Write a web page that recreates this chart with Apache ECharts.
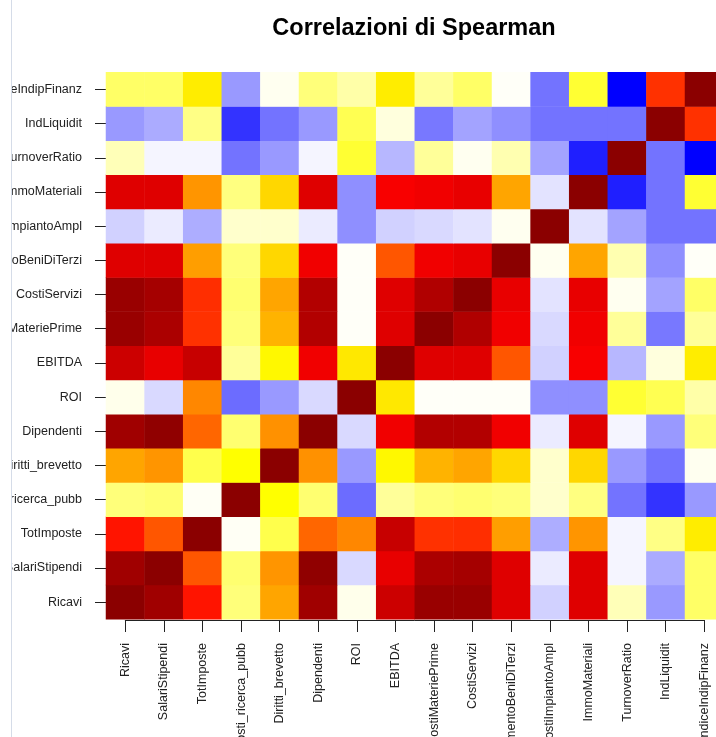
<!DOCTYPE html>
<html>
<head>
<meta charset="utf-8">
<title>Correlazioni di Spearman</title>
<script src="https://cdn.jsdelivr.net/npm/echarts@6/dist/echarts.min.js"></script>
<style>
  html, body { margin: 0; padding: 0; background: #fff; }
  #chart { width: 716px; height: 737px; }
</style>
</head>
<body>
<div id="chart"></div>
<script>
// variabili (ordine delle colonne; sull'asse y Ricavi sta in basso)
const variabili = [
  "Ricavi", "SalariStipendi", "TotImposte", "Costi_ricerca_pubb", "Diritti_brevetto",
  "Dipendenti", "ROI", "EBITDA", "CostiMateriePrime", "CostiServizi",
  "GodimentoBeniDiTerzi", "CostiImpiantoAmpl", "ImmoMateriali", "TurnoverRatio",
  "IndLiquidit", "IndiceIndipFinanz"
];

// correlazioni di Spearman, una riga per variabile (stimate dai colori)
const rRicavi        = [1.00, 0.955, 0.72, 0.13, 0.50, 0.955, 0.02, 0.86, 0.97, 0.97, 0.82, -0.18, 0.82, 0.07, -0.40, 0.15];
const rSalari        = [0.955, 1.00, 0.62, 0.14, 0.525, 0.99, -0.15, 0.80, 0.93, 0.945, 0.82, -0.08, 0.82, -0.04, -0.33, 0.15];
const rTotImposte    = [0.72, 0.62, 1.00, 0.01, 0.175, 0.595, 0.545, 0.87, 0.675, 0.68, 0.51, -0.32, 0.525, -0.04, 0.12, 0.30];
const rRicerca       = [0.13, 0.14, 0.01, 1.00, 0.25, 0.14, -0.58, 0.10, 0.13, 0.14, 0.13, 0.05, 0.125, -0.55, -0.80, -0.40];
const rDiritti       = [0.50, 0.525, 0.175, 0.25, 1.00, 0.53, -0.40, 0.27, 0.46, 0.50, 0.36, 0.05, 0.36, -0.40, -0.55, 0.015];
const rDipendenti    = [0.955, 0.99, 0.595, 0.14, 0.53, 1.00, -0.15, 0.78, 0.915, 0.917, 0.78, -0.08, 0.82, -0.04, -0.40, 0.13];
const rROI           = [0.02, -0.15, 0.545, -0.58, -0.40, -0.15, 1.00, 0.315, 0.007, 0.007, 0.007, -0.44, -0.44, 0.20, 0.17, 0.085];
const rEBITDA        = [0.86, 0.80, 0.87, 0.10, 0.27, 0.78, 0.315, 1.00, 0.82, 0.82, 0.62, -0.18, 0.765, -0.28, 0.033, 0.30];
const rMateriePrime  = [0.97, 0.93, 0.675, 0.13, 0.46, 0.915, 0.007, 0.82, 1.00, 0.92, 0.78, -0.15, 0.78, 0.10, -0.53, 0.10];
const rServizi       = [0.97, 0.945, 0.68, 0.14, 0.50, 0.917, 0.007, 0.82, 0.92, 1.00, 0.80, -0.11, 0.80, 0.015, -0.36, 0.15];
const rGodimento     = [0.82, 0.82, 0.51, 0.13, 0.36, 0.78, 0.007, 0.62, 0.78, 0.80, 1.00, 0.015, 0.50, 0.077, -0.44, 0.007];
const rImpianto      = [-0.18, -0.08, -0.32, 0.05, 0.05, -0.08, -0.44, -0.18, -0.15, -0.11, 0.015, 1.00, -0.11, -0.36, -0.55, -0.55];
const rImmo          = [0.82, 0.82, 0.525, 0.125, 0.36, 0.82, -0.44, 0.765, 0.78, 0.80, 0.50, -0.11, 1.00, -0.88, -0.55, 0.20];
const rTurnover      = [0.07, -0.04, -0.04, -0.55, -0.40, -0.04, 0.20, -0.28, 0.10, 0.015, 0.077, -0.36, -0.88, 1.00, -0.55, -1.00];
const rLiquidit      = [-0.40, -0.33, 0.12, -0.80, -0.55, -0.40, 0.17, 0.033, -0.53, -0.36, -0.44, -0.55, -0.55, -0.55, 1.00, 0.675];
const rIndipFinanz   = [0.15, 0.15, 0.30, -0.40, 0.015, 0.13, 0.085, 0.30, 0.10, 0.15, 0.007, -0.55, 0.20, -1.00, 0.675, 1.00];

const righe = [
  rRicavi, rSalari, rTotImposte, rRicerca, rDiritti, rDipendenti, rROI, rEBITDA,
  rMateriePrime, rServizi, rGodimento, rImpianto, rImmo, rTurnover, rLiquidit, rIndipFinanz
];

// palette: blu -> bianco -> giallo -> arancio -> rosso -> rosso scuro
const palette = ["#0000ff", "#4040ff", "#8080ff", "#bfbfff", "#ffffff", "#ffff00", "#ffa500", "#ff0000", "#8b0000"];

const heatData = [];
righe.forEach((riga, i) => {
  riga.forEach((v, j) => {
    heatData.push([j, i, v]);
  });
});

const font = "'Liberation Sans', Arial, sans-serif";

// posizione area grafico (la colonna di destra esce un po' dal bordo)
const gLeft = 106, gTop = 72.3, gRight = -7.6, gBottom = 117.7;
const halfW = (716 - gLeft - gRight) / 16 / 2;
const halfH = (737 - gTop - gBottom) / 16 / 2;

const chart = echarts.init(document.getElementById("chart"));

const option = {
  backgroundColor: "#ffffff",
  animation: false,
  title: {
    text: "Correlazioni di Spearman",
    left: 409,
    top: 12,
    textAlign: "center",
    textStyle: {
      fontFamily: font,
      fontSize: 23.5,
      fontWeight: "bold",
      color: "#000"
    }
  },
  graphic: [
    // la finestra taglia le etichette a sinistra
    {
      type: "rect",
      z: 100,
      shape: { x: 0, y: 0, width: 11, height: 737 },
      style: { fill: "#ffffff" },
      silent: true
    },
    {
      type: "rect",
      z: 101,
      shape: { x: 11, y: 0, width: 1, height: 737 },
      style: { fill: "#d5dce8" },
      silent: true
    }
  ],
  grid: [
    // celle
    { left: gLeft, top: gTop, right: gRight, bottom: gBottom, outerBoundsMode: "none", containLabel: false },
    // assi (da primo a ultimo tick, come in R)
    {
      left: gLeft + halfW,
      top: gTop + halfH,
      right: gRight + halfW,
      bottom: gBottom + halfH,
      outerBoundsMode: "none",
      containLabel: false
    }
  ],
  xAxis: [
    {
      gridIndex: 0,
      type: "category",
      data: variabili,
      boundaryGap: true,
      show: false
    },
    {
      gridIndex: 1,
      type: "category",
      data: variabili,
      boundaryGap: false,
      position: "bottom",
      offset: halfH + 0.7,
      axisLine: { show: true, lineStyle: { color: "#222", width: 1 } },
      axisTick: { show: true, length: 12, lineStyle: { color: "#222" } },
      axisLabel: {
        rotate: 90,
        interval: 0,
        margin: 23,
        fontFamily: font,
        fontSize: 12.5,
        color: "#222"
      },
      splitLine: { show: false }
    }
  ],
  yAxis: [
    {
      gridIndex: 0,
      type: "category",
      data: variabili,
      boundaryGap: true,
      show: false
    },
    {
      gridIndex: 1,
      type: "category",
      data: variabili,
      boundaryGap: false,
      position: "left",
      offset: halfW,
      axisLine: { show: true, lineStyle: { color: "#222", width: 1 } },
      axisTick: { show: true, length: 11, lineStyle: { color: "#222" } },
      axisLabel: {
        interval: 0,
        margin: 24,
        fontFamily: font,
        fontSize: 12.5,
        color: "#222"
      },
      splitLine: { show: false }
    }
  ],
  visualMap: {
    show: false,
    type: "continuous",
    min: -1,
    max: 1,
    dimension: 2,
    seriesIndex: 0,
    inRange: { color: palette }
  },
  series: [
    {
      name: "Spearman",
      type: "heatmap",
      xAxisIndex: 0,
      yAxisIndex: 0,
      data: heatData,
      itemStyle: { borderWidth: 0 },
      emphasis: { disabled: true }
    }
  ]
};

chart.setOption(option);
</script>
</body>
</html>
